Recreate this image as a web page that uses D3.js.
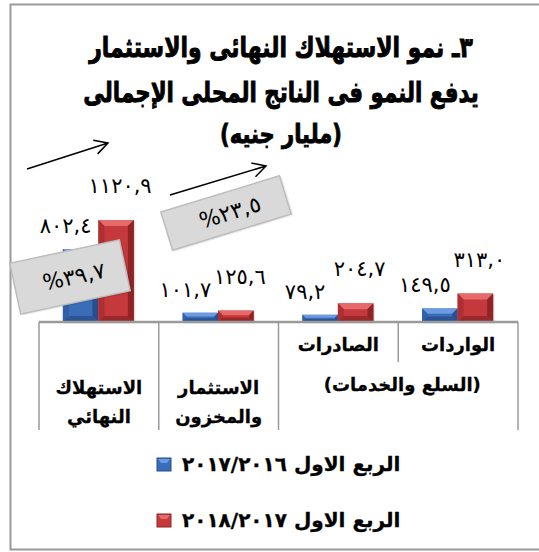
<!DOCTYPE html>
<html>
<head>
<meta charset="utf-8">
<script src="https://cdn.jsdelivr.net/npm/d3@7/dist/d3.min.js"></script>
<style>
  body { margin: 0; background: #fff; }
  svg { display: block; font-family: 'DejaVu Sans', sans-serif; }
</style>
</head>
<body>
<div id="chart"></div>
<script>
(function() {
    'use strict';

    // ---- data (left to right as drawn) ----
    var titleLines = [
        '٣ـ نمو الاستهلاك النهائى والاستثمار',
        'يدفع النمو فى الناتج المحلى الإجمالى',
        '(مليار جنيه)'
    ];
    var categories = ['الاستهلاك النهائي', 'الاستثمار والمخزون', 'الصادرات', 'الواردات'];
    var categoryLines = [['الاستهلاك', 'النهائي'], ['الاستثمار', 'والمخزون'], ['الصادرات'], ['الواردات']];
    var groupLabel = '(السلع والخدمات)';
    var groupMembers = ['الصادرات', 'الواردات'];
    var seriesNames = ['الربع الاول ٢٠١٧/٢٠١٦', 'الربع الاول ٢٠١٨/٢٠١٧'];
    var q1_2016_17 = [802.4, 101.7, 79.2, 149.5];
    var q1_2017_18 = [1120.9, 125.6, 204.7, 313.0];
    var growthFor = ['الاستهلاك النهائي', 'الاستثمار والمخزون'];

    var W = 539, H = 552;
    var area = { left: 39, right: 518, base: 322 };

    function toArabic(s) {
        return String(s).replace(/\./g, ',').replace(/[0-9]/g, function(d) {
            return String.fromCharCode(0x0660 + (+d));
        });
    }

    var series = [
        { name: seriesNames[0], values: q1_2016_17, main: '#3b6cb8', light: '#6b9be0', dark: '#274f8d', side: '#3160a6' },
        { name: seriesNames[1], values: q1_2017_18, main: '#c5383b', light: '#e66a6a', dark: '#8f2427', side: '#ad2f32' }
    ];

    var svg = d3.select('#chart').append('svg')
      .attr('width', W).attr('height', H)
      .attr('viewBox', '0 0 ' + W + ' ' + H);

    svg.append('rect')
      .attr('x', 10.5).attr('y', 4.5)
      .attr('width', 540).attr('height', 545)
      .attr('fill', '#fff')
      .attr('stroke', '#9a9a9a').attr('stroke-width', 2);

    // title (squeezed horizontally to the width of the original heavy face)
    var titleWidth = [384, 396, 122];
    var titleY = [57, 102, 143];
    svg.append('g').selectAll('text')
      .data(titleLines)
      .enter().append('text')
        .attr('x', 0)
        .attr('y', 0)
        .attr('text-anchor', 'middle')
        .attr('direction', 'rtl')
        .attr('font-size', function(d, i) { return i < 2 ? 28 : 26; })
        .attr('font-weight', 'bold')
        .attr('fill', '#000')
        .attr('stroke', '#000')
        .attr('stroke-width', 0.9)
        .text(function(d) { return d; })
        .attr('transform', function(d, i) {
            var w = this.getComputedTextLength();
            return 'translate(281,' + titleY[i] + ') scale(' + (titleWidth[i] / w) + ',1)';
        });

    var x = d3.scaleBand()
      .domain(categories)
      .range([area.left, area.right]);

    var inner = d3.scaleBand()
      .domain([0, 1])
      .range([x.bandwidth() / 2 - 36, x.bandwidth() / 2 + 35]);

    var y = d3.scaleLinear()
      .domain([0, d3.max(q1_2017_18)])
      .range([area.base, 220]);

    // bars with bevel look
    var chart = svg.append('g');

    series.forEach(function(s, si) {
        s.values.forEach(function(v, ci) {
            var x0 = x(categories[ci]) + inner(si);
            var w = inner.bandwidth();
            var y0 = y(v);
            var h = area.base - y0;
            var b = Math.min(6, h / 2.5, w / 4);
            var g = chart.append('g');

            g.append('rect')
              .attr('x', x0 + 1.5).attr('y', y0 + 1.5)
              .attr('width', w).attr('height', h)
              .attr('fill', '#000').attr('opacity', 0.12);
            g.append('rect')
              .attr('x', x0).attr('y', y0)
              .attr('width', w).attr('height', h)
              .attr('fill', s.main);
            // top bevel
            g.append('path')
              .attr('d', 'M' + x0 + ',' + y0 + 'L' + (x0 + w) + ',' + y0 +
                    'L' + (x0 + w - b) + ',' + (y0 + b) + 'L' + (x0 + b) + ',' + (y0 + b) + 'Z')
              .attr('fill', s.light);
            // left bevel
            g.append('path')
              .attr('d', 'M' + x0 + ',' + y0 + 'L' + (x0 + b) + ',' + (y0 + b) +
                    'L' + (x0 + b) + ',' + (area.base - b) + 'L' + x0 + ',' + area.base + 'Z')
              .attr('fill', s.side);
            // right bevel
            g.append('path')
              .attr('d', 'M' + (x0 + w) + ',' + y0 + 'L' + (x0 + w - b) + ',' + (y0 + b) +
                    'L' + (x0 + w - b) + ',' + (area.base - b) + 'L' + (x0 + w) + ',' + area.base + 'Z')
              .attr('fill', s.dark);
            // bottom bevel
            g.append('path')
              .attr('d', 'M' + x0 + ',' + area.base + 'L' + (x0 + b) + ',' + (area.base - b) +
                    'L' + (x0 + w - b) + ',' + (area.base - b) + 'L' + (x0 + w) + ',' + area.base + 'Z')
              .attr('fill', s.dark).attr('opacity', 0.8);
        });
    });

    // value labels
    series.forEach(function(s, si) {
        chart.append('g').selectAll('text')
          .data(s.values)
          .enter().append('text')
            .attr('x', function(d, i) {
                return x(categories[i]) + inner(si) + inner.bandwidth() / 2 + (si === 0 ? -15 : 4);
            })
            .attr('y', function(d) { return y(d) - (si === 0 ? 24 : 35) + 8; })
            .attr('text-anchor', 'middle')
            .attr('font-size', 21)
            .attr('fill', '#000')
            .text(function(d) { return toArabic(d.toFixed(1)); });
    });

    // category axis (multi level)
    var axis = svg.append('g')
      .attr('stroke', '#9a9a9a')
      .attr('stroke-width', 1.5);

    axis.append('line')
      .attr('x1', area.left).attr('x2', area.right)
      .attr('y1', area.base).attr('y2', area.base)
      .attr('stroke-width', 2.5);

    var groupStart = x(groupMembers[0]);
    var bounds = categories.map(function(c) { return x(c); }).concat([area.right]);
    axis.selectAll('.tick')
      .data(bounds)
      .enter().append('line')
        .attr('x1', function(d) { return d; })
        .attr('x2', function(d) { return d; })
        .attr('y1', area.base)
        .attr('y2', function(d) {
            return (d > groupStart && d < area.right) ? area.base + 40 : area.base + 108;
        });

    var labels = svg.append('g')
      .attr('font-size', 18)
      .attr('font-weight', 'bold')
      .attr('text-anchor', 'middle')
      .attr('direction', 'rtl')
      .attr('stroke', '#000')
      .attr('stroke-width', 0.3);

    categoryLines.forEach(function(lines, ci) {
        var cx = x(categories[ci]) + x.bandwidth() / 2;
        var inGroup = groupMembers.indexOf(categories[ci]) >= 0;
        lines.forEach(function(line, li) {
            labels.append('text')
              .attr('x', cx)
              .attr('y', inGroup ? area.base + 29 : area.base + 72 + li * 29)
              .text(line);
        });
    });

    labels.append('text')
      .attr('x', (groupStart + area.right) / 2 + 4)
      .attr('y', area.base + 69)
      .text(groupLabel);

    // growth call-outs
    var callouts = [
        { cx: 70, cy: 277, w: 112, h: 52, angle: -12 },
        { cx: 226, cy: 213, w: 124, h: 40, angle: -17 }
    ];
    growthFor.forEach(function(c, k) {
        var i = categories.indexOf(c);
        var pct = (q1_2017_18[i] / q1_2016_17[i] - 1) * 100;
        var co = callouts[k];
        var g = svg.append('g')
          .attr('transform', 'translate(' + co.cx + ',' + co.cy + ') rotate(' + co.angle + ')');
        g.append('rect')
          .attr('x', -co.w / 2 + 2).attr('y', -co.h / 2 + 2)
          .attr('width', co.w).attr('height', co.h)
          .attr('fill', '#000').attr('opacity', 0.08);
        g.append('rect')
          .attr('x', -co.w / 2).attr('y', -co.h / 2)
          .attr('width', co.w).attr('height', co.h)
          .attr('fill', '#d9d9d9')
          .attr('stroke', '#bdbdbd').attr('stroke-width', 1.5);
        g.append('text')
          .attr('x', 4).attr('y', 8)
          .attr('text-anchor', 'middle')
          .attr('font-size', 22)
          .attr('fill', '#000')
          .text('%' + toArabic(pct.toFixed(1)));
    });

    // arrows
    var arrows = [
        { x1: 27, y1: 169, x2: 108, y2: 143 },
        { x1: 170, y1: 195, x2: 266, y2: 166 }
    ];
    arrows.forEach(function(a) {
        var ang = Math.atan2(a.y2 - a.y1, a.x2 - a.x1);
        var len = 15, spread = 0.5;
        var p1 = [a.x2 - len * Math.cos(ang - spread), a.y2 - len * Math.sin(ang - spread)];
        var p2 = [a.x2 - len * Math.cos(ang + spread), a.y2 - len * Math.sin(ang + spread)];
        svg.append('path')
          .attr('d', 'M' + a.x1 + ',' + a.y1 + 'L' + a.x2 + ',' + a.y2 +
                'M' + p1[0] + ',' + p1[1] + 'L' + a.x2 + ',' + a.y2 + 'L' + p2[0] + ',' + p2[1])
          .attr('fill', 'none')
          .attr('stroke', '#000')
          .attr('stroke-width', 1.5);
    });

    // legend
    var legend = svg.append('g')
      .selectAll('g')
      .data(series)
      .enter().append('g')
        .attr('transform', function(d, i) { return 'translate(157,' + (458 + i * 56) + ')'; });

    legend.append('rect')
      .attr('width', 14).attr('height', 13)
      .attr('fill', function(d) { return d.main; })
      .attr('stroke', function(d) { return d.dark; })
      .attr('stroke-width', 1);
    legend.append('path')
      .attr('d', 'M1,1L13,1L10,5L4,5Z')
      .attr('fill', function(d) { return d.light; });

    legend.append('text')
      .attr('x', 25).attr('y', 13)
      .attr('font-size', 20)
      .attr('font-weight', 'bold')
      .attr('fill', '#000')
      .attr('stroke', '#000')
      .attr('stroke-width', 0.3)
      .text(function(d) { return d.name; });

})();
</script>
</body>
</html>
